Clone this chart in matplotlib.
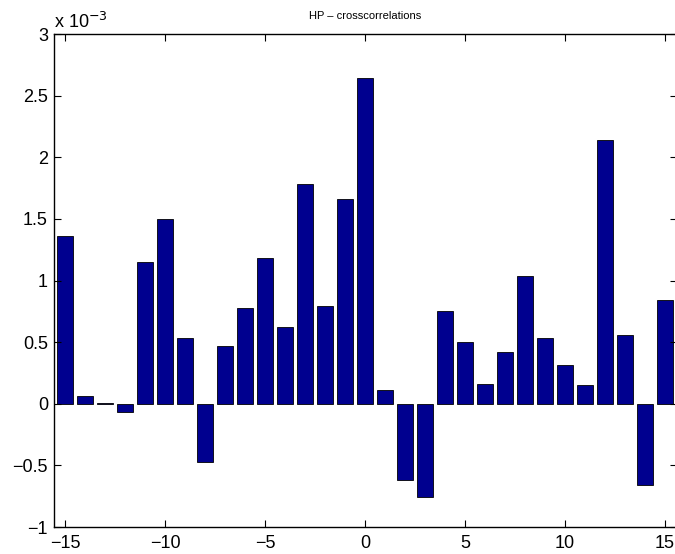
import matplotlib
matplotlib.use("Agg")
import matplotlib.pyplot as plt
import numpy as np

plt.rcParams['font.family'] = ['Liberation Sans', 'DejaVu Sans']

lags = list(range(-15, 16))
# values in units of 1e-3
values = [1.36, 0.065, 0.005, -0.067, 1.15, 1.50, 0.533, -0.473, 0.468, 0.777,
          1.18, 0.62, 1.78, 0.79, 1.665, 2.643, 0.11, -0.62, -0.757, 0.75,
          0.50, 0.16, 0.42, 1.035, 0.533, 0.314, 0.152, 2.14, 0.556, -0.66, 0.84]
xticks = [-15, -10, -5, 0, 5, 10, 15]
yticks = [-1, -0.5, 0, 0.5, 1, 1.5, 2, 2.5, 3]
yticklabels = ['\u22121', '\u22120.5', '0', '0.5', '1', '1.5', '2', '2.5', '3']
xticklabels = ['\u221215', '\u221210', '\u22125', '0', '5', '10', '15']
title = 'HP \u2013 crosscorrelations'

fig = plt.figure(figsize=(6.75, 5.54), dpi=100)
ax = fig.add_axes([0.0793, 0.0487, 0.9244, 0.8899])
ax.bar(lags, values, width=0.8, color='#00008F', edgecolor='black', linewidth=0.6)
ax.set_xlim(-15.58, 15.62)
ax.set_ylim(-1, 3)
ax.set_xticks(xticks)
ax.set_xticklabels(xticklabels)
ax.set_yticks(yticks)
ax.set_yticklabels(yticklabels)
ax.tick_params(direction='in', length=5, width=0.8, top=True, right=True,
               labelsize=13, pad=4)
ax.tick_params(axis='x', pad=6)
for s in ax.spines.values():
    s.set_linewidth(1.0)
ax.set_title(title, fontsize=8, pad=11)
ax.text(0.0, 1.005, 'x 10$^{-3}$', transform=ax.transAxes, fontsize=13,
        ha='left', va='bottom')
fig.savefig('out.png', dpi=100)
